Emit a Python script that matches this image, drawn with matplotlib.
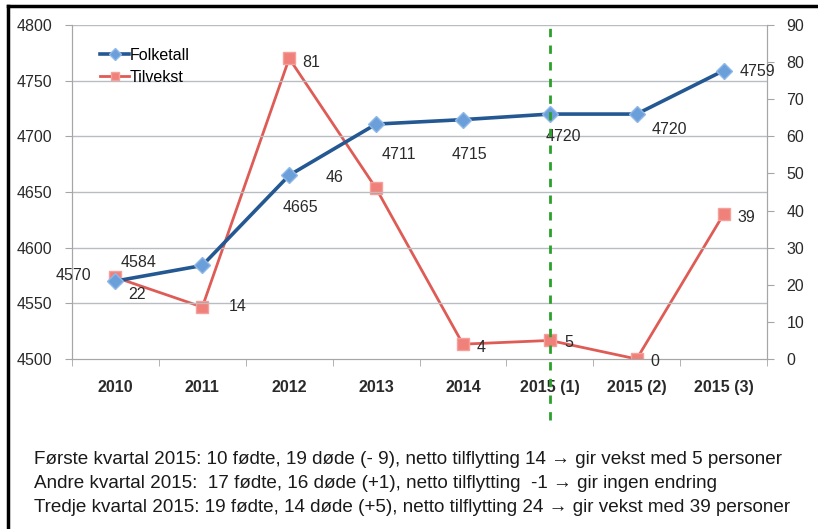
import matplotlib
matplotlib.use('Agg')
import matplotlib.pyplot as plt
from matplotlib.lines import Line2D

plt.rcParams['font.family'] = ['Liberation Sans', 'DejaVu Sans']

# data
kategorier = ['2010', '2011', '2012', '2013', '2014', '2015 (1)', '2015 (2)', '2015 (3)']
folketall = [4570, 4584, 4665, 4711, 4715, 4720, 4720, 4759]
tilvekst = [22, 14, 81, 46, 4, 5, 0, 39]

# label offsets (pixels) for each data label
off_folk = [(-42, 6), (-64, 3), (11, -32), (23, -30), (7, -35), (14, -22), (33, -15), (34, -1)]
off_til = [(22, -17), (35, 1), (22, -4), (-41, 11), (18, -3), (19, -2), (18, -3), (23, -3)]

notater = [
    'Første kvartal 2015: 10 fødte, 19 døde (- 9), netto tilflytting 14 \u2192 gir vekst med 5 personer',
    'Andre kvartal 2015:  17 fødte, 16 døde (+1), netto tilflytting  -1 \u2192 gir ingen endring',
    'Tredje kvartal 2015: 19 fødte, 14 døde (+5), netto tilflytting 24 \u2192 gir vekst med 39 personer',
]

C_BLUE = '#245892'
C_BLUE_M = '#6b9fda'
C_RED = '#df5c56'
C_RED_M = '#f0807a'
C_BG = '#e4ebf4'
C_GRID = '#b9bdc2'
C_AX = '#a6a6a6'
C_TXT = '#2a2a2a'

fig = plt.figure(figsize=(8.18, 5.29), dpi=100)
ax = fig.add_axes([72/818, 1-359/529, 695/818, 334/529])
ax2 = ax.twinx()

x = [i + 0.5 for i in range(len(kategorier))]

ax.set_xlim(0, len(kategorier))
ax.set_ylim(4500, 4800)
ax.set_yticks(range(4500, 4801, 50))
ax2.set_ylim(0, 90)
ax2.set_yticks(range(0, 91, 10))

ax.set_xticks(x)
ax.set_xticklabels(kategorier, fontweight='bold', fontsize=11.5, color=C_TXT)
ax.set_xticks(range(len(kategorier) + 1), minor=True)
ax.tick_params(axis='x', which='major', length=0, pad=15)
ax.tick_params(axis='x', which='minor', length=5, color=C_AX, direction='out')
ax.tick_params(axis='y', length=5, color=C_AX, labelsize=11.5, labelcolor=C_TXT, pad=9)
ax2.tick_params(axis='y', length=5, color=C_AX, labelsize=11.5, labelcolor=C_TXT, pad=9)
for a in (ax, ax2):
    for s in ['left', 'right', 'bottom']:
        a.spines[s].set_color(C_AX)
    a.spines['top'].set_visible(False)

# bakgrunn på bakre akse, linjer på fremre
ax2.set_facecolor(C_BG)
ax.set_zorder(ax2.get_zorder() + 1)
ax.patch.set_visible(False)
for yv in range(4550, 4801, 50):
    ax.axhline(yv, color=C_GRID, linewidth=1, zorder=0)

ax.plot(x, folketall, '-', color=C_BLUE, linewidth=2.6, marker='D', markersize=8,
        markerfacecolor=C_BLUE_M, markeredgecolor='#8fb8e8', markeredgewidth=1, zorder=5)
ax2.plot(x, tilvekst, '-', color=C_RED, linewidth=2, marker='s', markersize=8,
         markerfacecolor=C_RED_M, markeredgecolor='#f5a09a', markeredgewidth=1, zorder=5)

for xi, v, (dx, dy) in zip(x, folketall, off_folk):
    ax.annotate(str(v), (xi, v), xytext=(dx, dy), textcoords='offset pixels',
                ha='center', va='center', fontsize=11.5, color=C_TXT, zorder=6)
for xi, v, (dx, dy) in zip(x, tilvekst, off_til):
    ax.annotate(str(v), (xi, 4500 + v * 300 / 90), xytext=(dx, dy), textcoords='offset pixels',
                ha='center', va='center', fontsize=11.5, color=C_TXT, zorder=6)

# grønn stiplet markering ved 2015 (1)
ax.axvline(x[5], ymin=(359-420)/334, ymax=1, color='#2ca02c', linestyle=(0, (3, 3)),
           linewidth=2, clip_on=False, zorder=7)

h1 = Line2D([], [], color=C_BLUE, linewidth=2.6, marker='D', markersize=6,
            markerfacecolor=C_BLUE_M, markeredgecolor='#8fb8e8')
h2 = Line2D([], [], color=C_RED, linewidth=2, marker='s', markersize=6,
            markerfacecolor=C_RED_M, markeredgecolor='#f5a09a')
ax.legend([h1, h2], ['Folketall', 'Tilvekst'], loc='upper left', bbox_to_anchor=(0.02, 0.975),
          frameon=False, fontsize=11.5, handlelength=1.8, handletextpad=0.05, labelspacing=0.45)

for i, t in enumerate(notater):
    fig.text(34/818, 1-(460 + 23.5*i)/529, t, fontsize=13.6, va='center', ha='left', color='#1a1a1a')

# svart ramme (venstre og topp)
fig.add_artist(Line2D([8/818, 8/818], [0, 1-6/529], color='black', linewidth=2.5))
fig.add_artist(Line2D([8/818, 1], [1-6/529, 1-6/529], color='black', linewidth=2.5))

fig.savefig('out.png', dpi=100)
